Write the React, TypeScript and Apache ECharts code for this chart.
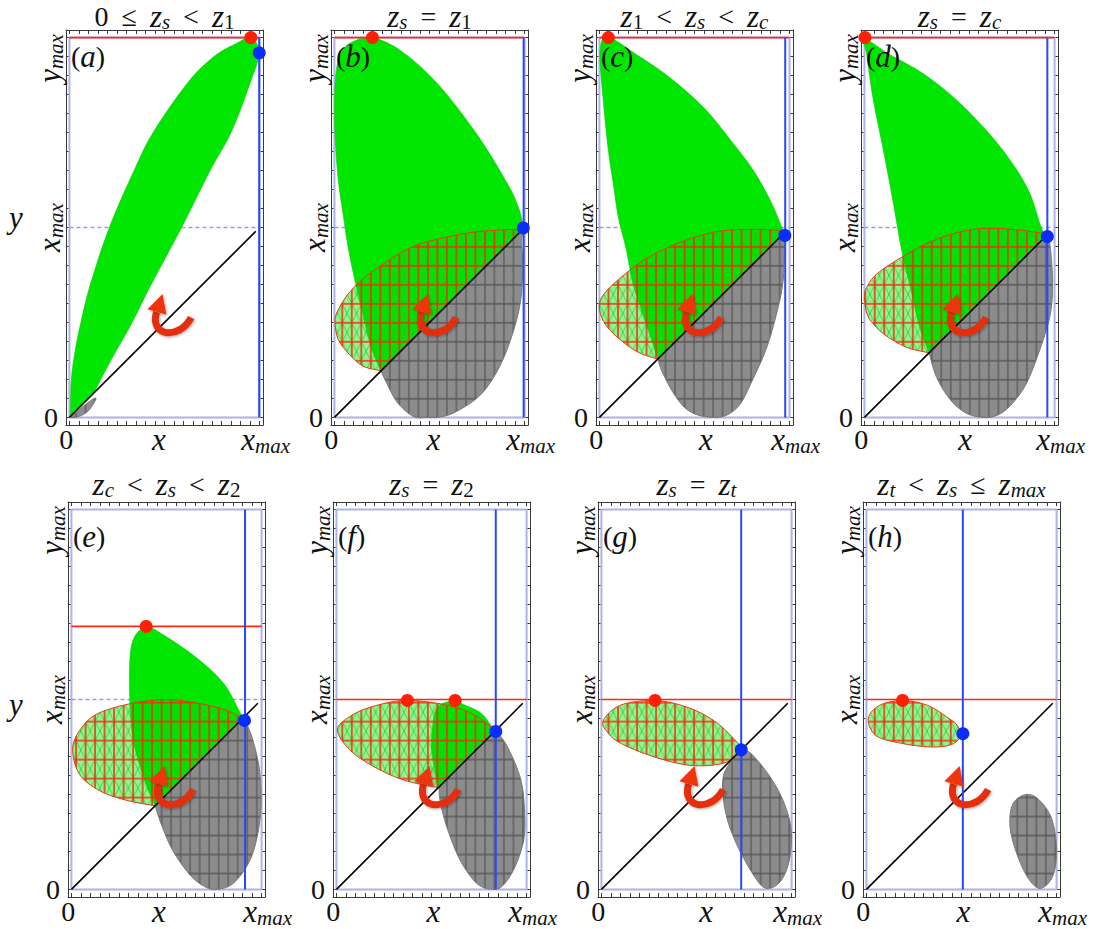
import { useEffect, useRef } from "react";
import * as echarts from "echarts";

// ---------------- data (x measured in x_max = 1, y in the same unit, y_max = 2) ----------------
const X_MIN = -0.018;
const X_MAX = 1.018;
const Y_MIN = -0.04;
const Y_MAX = 2.04;

const X_TICKS = [0, 0.05, 0.1, 0.15, 0.2, 0.25, 0.3, 0.35, 0.4, 0.45, 0.5, 0.55, 0.6, 0.65, 0.7, 0.75, 0.8, 0.85, 0.9, 0.95, 1];
const Y_TICKS = [0, 0.1, 0.2, 0.3, 0.4, 0.5, 0.6, 0.7, 0.8, 0.9, 1, 1.1, 1.2, 1.3, 1.4, 1.5, 1.6, 1.7, 1.8, 1.9, 2];

// tick-label positions and texts
const X_ZERO_LABEL_AT = -0.017;
const X_MAX_LABEL_AT = 1;
const X_NAME_AT = [0.47, 0.52, 0.56, 0.53, 0.46, 0.51, 0.55, 0.51];
const Y_XMAX_LABEL_AT = 1;
const Y_YMAX_LABEL_AT = 1.89;

const PANEL_IDS = ["a", "b", "c", "d", "e", "f", "g", "h"];
const PANEL_TITLES = [
  "{n|0}{sp| }{n|≤}{sp| }{i|z}{si|s}{sp| }{n|<}{sp| }{i|z}{sn|1}",
  "{i|z}{si|s}{sp| }{n|=}{sp| }{i|z}{sn|1}",
  "{i|z}{sn|1}{sp| }{n|<}{sp| }{i|z}{si|s}{sp| }{n|<}{sp| }{i|z}{si|c}",
  "{i|z}{si|s}{sp| }{n|=}{sp| }{i|z}{si|c}",
  "{i|z}{si|c}{sp| }{n|<}{sp| }{i|z}{si|s}{sp| }{n|<}{sp| }{i|z}{sn|2}",
  "{i|z}{si|s}{sp| }{n|=}{sp| }{i|z}{sn|2}",
  "{i|z}{si|s}{sp| }{n|=}{sp| }{i|z}{si|t}",
  "{i|z}{si|t}{sp| }{n|<}{sp| }{i|z}{si|s}{sp| }{n|≤}{sp| }{i|z}{si|max}",
];

const BOX = [[0, 0], [1, 0], [1, 2], [0, 2], [0, 0]];
const DASHED_LEVEL = [[0, 1], [1, 1]];
const SHOW_DASHED = [true, true, true, true, true, false, false, false];
const DIAGONAL = [[0, 0], [0.98, 0.98]];
const RED_LEVEL = [2, 2, 2, 2, 1.385, 1, 1, 1];
const BLUE_X = [0.998, 0.995, 0.977, 0.962, 0.913, 0.838, 0.735, 0.507];

const RED_DOTS = [
  [[0.954, 2]],
  [[0.2, 2]],
  [[0.047, 2]],
  [[0.003, 2]],
  [[0.393, 1.385]],
  [[0.373, 0.995], [0.624, 0.995]],
  [[0.282, 0.995]],
  [[0.19, 0.995]],
];
const BLUE_DOTS = [
  [0.998, 1.92],
  [0.993, 0.998],
  [0.975, 0.958],
  [0.962, 0.952],
  [0.91, 0.89],
  [0.838, 0.832],
  [0.735, 0.735],
  [0.507, 0.82],
];

// green (solid) regions: outline points; the last point joins the first along the diagonal
const GREEN_A = [[0.005, 0.01], [0.01, 0.2], [0.03, 0.35], [0.06, 0.5], [0.11, 0.7], [0.21, 1.0], [0.34, 1.3], [0.44, 1.5], [0.62, 1.76], [0.76, 1.9], [0.88, 1.97], [0.954, 2.0], [0.998, 1.92], [0.95, 1.76], [0.85, 1.5], [0.74, 1.3], [0.59, 1.0], [0.43, 0.7], [0.33, 0.5], [0.24, 0.34], [0.17, 0.21], [0.13, 0.13]];
const GREEN_B = [[0.245, 0.245], [0.196, 0.36], [0.15, 0.54], [0.11, 0.71], [0.073, 0.89], [0.047, 1.06], [0.02, 1.25], [0.005, 1.45], [0.0, 1.65], [0.01, 1.83], [0.04, 1.93], [0.1, 1.98], [0.2, 2.0], [0.35, 1.93], [0.54, 1.76], [0.75, 1.49], [0.91, 1.23], [0.97, 1.1], [0.995, 0.997]];
const GREEN_C = [[0.307, 0.307], [0.29, 0.36], [0.23, 0.54], [0.175, 0.71], [0.14, 0.89], [0.1, 1.05], [0.073, 1.23], [0.047, 1.405], [0.02, 1.67], [0.003, 1.93], [0.047, 2.0], [0.196, 1.91], [0.37, 1.79], [0.55, 1.63], [0.69, 1.46], [0.81, 1.3], [0.9, 1.14], [0.96, 1.0], [0.975, 0.96]];
const GREEN_D = [[0.34, 0.34], [0.29, 0.475], [0.25, 0.65], [0.196, 0.88], [0.15, 1.14], [0.1, 1.405], [0.047, 1.67], [0.012, 1.91], [0.003, 1.99], [0.135, 1.91], [0.31, 1.81], [0.486, 1.67], [0.66, 1.49], [0.78, 1.335], [0.87, 1.18], [0.93, 1.0], [0.962, 0.955]];
const GREEN_E = [[0.44, 0.44], [0.41, 0.51], [0.36, 0.65], [0.32, 0.82], [0.305, 1.085], [0.32, 1.3], [0.393, 1.38], [0.5, 1.33], [0.67, 1.21], [0.8, 1.085], [0.88, 0.945], [0.907, 0.89]];
const GREEN_F = [[0.535, 0.535], [0.52, 0.61], [0.5, 0.75], [0.51, 0.89], [0.525, 0.95], [0.56, 0.98], [0.62, 0.99], [0.7, 0.96], [0.77, 0.92], [0.835, 0.83]];

// red-outlined hatched regions
const HATCH_B = [[0.245, 0.245], [0.15, 0.27], [0.08, 0.33], [0.02, 0.41], [0.003, 0.5], [0.012, 0.55], [0.065, 0.64], [0.15, 0.73], [0.275, 0.82], [0.415, 0.9], [0.59, 0.95], [0.77, 0.98], [0.96, 0.99], [0.99, 0.99]];
const HATCH_C = [[0.307, 0.307], [0.21, 0.34], [0.12, 0.4], [0.035, 0.484], [0.0, 0.57], [0.017, 0.64], [0.105, 0.73], [0.245, 0.835], [0.42, 0.92], [0.6, 0.975], [0.77, 0.99], [0.956, 0.984], [0.97, 0.97]];
const HATCH_D = [[0.34, 0.34], [0.22, 0.37], [0.1, 0.44], [0.02, 0.53], [0.0, 0.63], [0.012, 0.685], [0.065, 0.755], [0.19, 0.84], [0.36, 0.93], [0.54, 0.985], [0.71, 0.995], [0.94, 0.97], [0.96, 0.96]];
const HATCH_E = [[0.44, 0.44], [0.287, 0.47], [0.147, 0.52], [0.04, 0.61], [0.007, 0.75], [0.06, 0.86], [0.147, 0.93], [0.32, 0.98], [0.5, 1.0], [0.67, 0.98], [0.81, 0.945], [0.9, 0.9]];
const HATCH_F = [[0.535, 0.535], [0.35, 0.577], [0.19, 0.65], [0.07, 0.735], [0.005, 0.84], [0.07, 0.91], [0.18, 0.96], [0.35, 0.995], [0.53, 0.98], [0.67, 0.945], [0.77, 0.89], [0.835, 0.835]];
const HATCH_G = [[0.01, 0.89], [0.1, 0.97], [0.28, 0.995], [0.45, 0.96], [0.59, 0.89], [0.69, 0.8], [0.735, 0.735], [0.68, 0.68], [0.59, 0.655], [0.45, 0.655], [0.27, 0.7], [0.1, 0.77], [0.03, 0.83]];
const HATCH_H = [[0.01, 0.9], [0.07, 0.97], [0.19, 0.995], [0.32, 0.97], [0.42, 0.91], [0.48, 0.86], [0.49, 0.8], [0.44, 0.76], [0.335, 0.75], [0.18, 0.77], [0.05, 0.81]];

// grey hatched regions
const GREY_A = [[0.01, 0.0], [0.05, 0.005], [0.1, 0.035], [0.14, 0.1], [0.1, 0.08], [0.04, 0.03]];
const GREY_B = [[0.245, 0.245], [0.27, 0.19], [0.33, 0.08], [0.415, 0.005], [0.485, 0.0], [0.556, 0.002], [0.64, 0.03], [0.77, 0.12], [0.87, 0.27], [0.94, 0.45], [0.98, 0.62], [0.99, 0.8], [0.985, 0.92], [0.99, 0.99]];
const GREY_C = [[0.307, 0.307], [0.33, 0.24], [0.386, 0.133], [0.45, 0.05], [0.52, 0.012], [0.6, 0.0], [0.67, 0.012], [0.74, 0.07], [0.8, 0.186], [0.877, 0.36], [0.93, 0.54], [0.965, 0.71], [0.973, 0.9], [0.97, 0.97]];
const GREY_D = [[0.34, 0.34], [0.38, 0.21], [0.45, 0.095], [0.53, 0.025], [0.62, 0.0], [0.7, 0.012], [0.77, 0.065], [0.85, 0.175], [0.92, 0.35], [0.975, 0.53], [0.99, 0.7], [0.977, 0.9], [0.96, 0.96]];
const GREY_E = [[0.44, 0.44], [0.47, 0.35], [0.53, 0.21], [0.62, 0.08], [0.7, 0.015], [0.77, 0.0], [0.86, 0.04], [0.95, 0.18], [0.995, 0.4], [0.99, 0.62], [0.95, 0.8], [0.905, 0.905]];
const GREY_F = [[0.54, 0.54], [0.545, 0.47], [0.58, 0.33], [0.65, 0.155], [0.74, 0.03], [0.826, 0.0], [0.88, 0.025], [0.94, 0.12], [0.985, 0.26], [0.99, 0.4], [0.97, 0.577], [0.9, 0.75], [0.838, 0.838]];
const GREY_G = [[0.747, 0.726], [0.82, 0.68], [0.92, 0.54], [0.98, 0.4], [1.0, 0.28], [0.985, 0.14], [0.94, 0.04], [0.87, 0.005], [0.81, 0.06], [0.71, 0.24], [0.65, 0.42], [0.645, 0.61]];
const GREY_H = [[0.84, 0.5], [0.91, 0.47], [0.975, 0.37], [1.0, 0.21], [0.98, 0.07], [0.915, 0.005], [0.85, 0.06], [0.79, 0.19], [0.755, 0.33], [0.77, 0.45]];

// curved red arrow (cubic body + head)
const ARROW_BODY = [[0.64, 0.525], [0.58, 0.41], [0.42, 0.42], [0.458, 0.555]];
const ARROW_HEAD = [[0.49, 0.65], [0.41, 0.57], [0.51, 0.54]];

// ---------------- per-panel tables built from the arrays ----------------
const GREEN_SHAPES = [GREEN_A, GREEN_B, GREEN_C, GREEN_D, GREEN_E, GREEN_F, null, null];
const HATCH_SHAPES = [null, HATCH_B, HATCH_C, HATCH_D, HATCH_E, HATCH_F, HATCH_G, HATCH_H];
const HATCH_CLOSED = [false, false, false, false, false, false, true, true];
const GREY_SHAPES = [GREY_A, GREY_B, GREY_C, GREY_D, GREY_E, GREY_F, GREY_G, GREY_H];
const GREY_CLOSED = [true, false, false, false, false, false, true, true];

// ---------------- layout & style ----------------
const GRID_LEFT = [66, 68];
const GRID_TOP = [30, 502];
const GRID_STEP = 265;
const GRID_W = 197;
const GRID_H = 395;
const FRAME = "#3a3a3a";
const FONT = "Liberation Serif";
const INK = "#111";

function makeRich(lh: number) {
  return {
    n: { fontFamily: FONT, fontWeight: "normal", fontStyle: "normal", fontSize: 28, lineHeight: lh, color: INK },
    i: { fontFamily: FONT, fontWeight: "normal", fontStyle: "italic", fontSize: 31, lineHeight: lh, color: INK },
    si: { fontFamily: FONT, fontWeight: "normal", fontStyle: "italic", fontSize: 21, lineHeight: 18, verticalAlign: "bottom", color: INK },
    sn: { fontFamily: FONT, fontWeight: "normal", fontStyle: "normal", fontSize: 21, lineHeight: 18, verticalAlign: "bottom", color: INK },
    sp: { fontFamily: FONT, fontSize: 12, width: 13 },
    pad: { fontFamily: FONT, fontSize: 12, width: 12 },
  };
}
const TEXT_BASE = { fontFamily: FONT, fontWeight: "normal", fontSize: 28, color: INK, rich: makeRich(34) };
const TITLE_TEXT = { fontFamily: FONT, fontWeight: "normal", fontSize: 28, color: INK, rich: makeRich(32) };

function smoothPath(p: number[][], closed: boolean): string {
  const n = p.length;
  const at = (k: number) => (closed ? p[((k % n) + n) % n] : p[Math.min(n - 1, Math.max(0, k))]);
  const f = (v: number) => v.toFixed(2);
  let d = `M${f(p[0][0])} ${f(p[0][1])}`;
  const segs = closed ? n : n - 1;
  for (let k = 0; k < segs; k++) {
    const a = at(k - 1), b = at(k), c = at(k + 1), e = at(k + 2);
    d += `C${f(b[0] + (c[0] - a[0]) / 6)} ${f(b[1] + (c[1] - a[1]) / 6)} ${f(c[0] - (e[0] - b[0]) / 6)} ${f(c[1] - (e[1] - b[1]) / 6)} ${f(c[0])} ${f(c[1])}`;
  }
  return d + "Z";
}

function tile(w: number, h: number, lineColor: string, lineWidth: number, diagColor: string | null): string {
  const svg =
    `<svg xmlns='http://www.w3.org/2000/svg' width='${w}' height='${h}' viewBox='0 0 ${w} ${h}'>` +
    (diagColor
      ? `<path d='M0 0L${w} ${h}M${w} 0L0 ${h}' stroke='${diagColor}' stroke-width='0.7' fill='none'/>`
      : "") +
    `<path d='M0 0V${h}M${w} 0V${h}M0 0H${w}M0 ${h}H${w}' stroke='${lineColor}' stroke-width='${lineWidth}' fill='none'/></svg>`;
  return "data:image/svg+xml;charset=utf-8," + encodeURIComponent(svg);
}

function regionSeries(pts: number[][], closed: boolean, kind: "green" | "hatch" | "grey", xi: number, yi: number, z: number) {
  return {
    type: "custom",
    xAxisIndex: xi,
    yAxisIndex: yi,
    z,
    silent: true,
    clip: true,
    data: pts,
    encode: { x: 0, y: 1 },
    renderItem: (params: any, api: any) => {
      if (params.dataIndex !== 0) return null;
      const pix = pts.map((q) => api.coord(q));
      const d = smoothPath(pix, closed);
      if (kind === "green") {
        return { type: "path", shape: { pathData: d }, style: { fill: "#00e600", stroke: "#10c810", lineWidth: 0.6 } };
      }
      const o = api.coord([0, 0]);
      const u = api.coord([0.05, 0.1]);
      const w = +(u[0] - o[0]).toFixed(3);
      const h = +(o[1] - u[1]).toFixed(3);
      const pattern = {
        image: kind === "hatch" ? tile(w, h, "#f52a0a", 1.5, "#12d012") : tile(w, h, "rgba(45,45,45,0.55)", 1.3, null),
        repeat: "repeat",
        imageWidth: w,
        imageHeight: h,
        x: o[0],
        y: o[1],
      };
      const base = kind === "hatch" ? "rgba(0,225,0,0.42)" : "#8c8c8c";
      const edge = kind === "hatch" ? "#ea3a18" : "#7a7a7a";
      return {
        type: "group",
        children: [
          { type: "path", shape: { pathData: d }, style: { fill: base } },
          { type: "path", shape: { pathData: d }, style: { fill: pattern } },
          { type: "path", shape: { pathData: d }, style: { fill: "none", stroke: edge, lineWidth: 1 } },
        ],
      };
    },
  };
}

function lineSeries(data: number[][], xi: number, yi: number, z: number, color: string, width: number, type: any = "solid") {
  return {
    type: "line",
    xAxisIndex: xi,
    yAxisIndex: yi,
    z,
    silent: true,
    data,
    symbol: "none",
    showSymbol: false,
    lineStyle: { color, width, type },
  };
}

function buildOption() {
  const grid: any[] = [];
  const xAxis: any[] = [];
  const yAxis: any[] = [];
  const series: any[] = [];
  const title: any[] = [];

  for (let i = 0; i < 8; i++) {
    const row = i < 4 ? 0 : 1;
    const col = i % 4;
    const left = GRID_LEFT[row] + col * GRID_STEP;
    const top = GRID_TOP[row];
    grid.push({ left, top, width: GRID_W, height: GRID_H, containLabel: false, outerBoundsMode: "none" });

    const xName = X_NAME_AT[i];
    const frameLine = { show: true, onZero: false, lineStyle: { color: FRAME, width: 1 } };
    xAxis.push({
      gridIndex: i, type: "value", min: X_MIN, max: X_MAX, position: "bottom",
      axisLine: frameLine,
      axisTick: { show: true, inside: true, length: 4, customValues: X_TICKS, lineStyle: { color: FRAME } },
      axisLabel: {
        show: true, margin: -3, ...TEXT_BASE,
        customValues: [X_ZERO_LABEL_AT, xName, X_MAX_LABEL_AT],
        formatter: (v: number) =>
          Math.abs(v - X_MAX_LABEL_AT) < 1e-6 ? "{pad| }{i|x}{si|max}" : Math.abs(v - xName) < 1e-6 ? "{i|x}" : "{n|0}",
      },
      splitLine: { show: false },
    });
    xAxis.push({
      gridIndex: i, type: "value", min: X_MIN, max: X_MAX, position: "top",
      axisLine: frameLine,
      axisTick: { show: true, inside: true, length: 4, customValues: X_TICKS, lineStyle: { color: FRAME } },
      axisLabel: { show: false },
      splitLine: { show: false },
    });
    yAxis.push({
      gridIndex: i, type: "value", min: Y_MIN, max: Y_MAX, position: "left",
      axisLine: frameLine,
      axisTick: { show: true, inside: true, length: 4, customValues: Y_TICKS, lineStyle: { color: FRAME } },
      axisLabel: {
        show: true, rotate: 90, margin: 0, ...TEXT_BASE,
        customValues: [Y_XMAX_LABEL_AT, Y_YMAX_LABEL_AT],
        formatter: (v: number) => (Math.abs(v - Y_XMAX_LABEL_AT) < 1e-6 ? "{i|x}{si|max}" : "{i|y}{si|max}"),
      },
      splitLine: { show: false },
    });
    yAxis.push({
      gridIndex: i, type: "value", min: Y_MIN, max: Y_MAX, position: "right",
      axisLine: frameLine,
      axisTick: { show: true, inside: true, length: 4, customValues: Y_TICKS, lineStyle: { color: FRAME } },
      axisLabel: { show: false },
      splitLine: { show: false },
    });
    yAxis.push({
      gridIndex: i, type: "value", min: Y_MIN, max: Y_MAX, position: "left",
      axisLine: { show: false },
      axisTick: { show: false },
      axisLabel: { show: true, margin: 8, ...TEXT_BASE, customValues: [0], formatter: () => "{n|0}" },
      splitLine: { show: false },
    });

    const xi = 2 * i;
    const yi = 3 * i;
    series.push(lineSeries(BOX, xi, yi, 1, "#adb2ea", 2));
    if (SHOW_DASHED[i]) series.push(lineSeries(DASHED_LEVEL, xi, yi, 1, "#979de0", 1.3, [4, 3]));
    const g = GREEN_SHAPES[i];
    if (g) series.push(regionSeries(g, false, "green", xi, yi, 2));
    const hsh = HATCH_SHAPES[i];
    if (hsh) series.push(regionSeries(hsh, HATCH_CLOSED[i], "hatch", xi, yi, 3));
    series.push(regionSeries(GREY_SHAPES[i], GREY_CLOSED[i], "grey", xi, yi, 4));
    series.push(lineSeries(DIAGONAL, xi, yi, 5, "#000", 1.6));
    series.push(lineSeries([[0, RED_LEVEL[i]], [1, RED_LEVEL[i]]], xi, yi, 5, "#ff2a12", 1.6));
    series.push(lineSeries([[BLUE_X[i], 0], [BLUE_X[i], 2]], xi, yi, 5, "#2a48ff", 2));
    series.push({
      type: "custom", xAxisIndex: xi, yAxisIndex: yi, z: 6, silent: true,
      data: [ARROW_BODY[0]],
      encode: { x: 0, y: 1 },
      renderItem: (_p: any, api: any) => {
        const b = ARROW_BODY.map((q) => api.coord(q));
        const hd = ARROW_HEAD.map((q) => api.coord(q));
        return {
          type: "group",
          children: [
            {
              type: "path",
              shape: { pathData: `M${b[0][0]} ${b[0][1]}C${b[1][0]} ${b[1][1]} ${b[2][0]} ${b[2][1]} ${b[3][0]} ${b[3][1]}` },
              style: { fill: "none", stroke: "#e42e0a", lineWidth: 7, shadowBlur: 3, shadowColor: "rgba(0,0,0,0.35)", shadowOffsetX: 1, shadowOffsetY: 1 },
            },
            { type: "polygon", shape: { points: hd }, style: { fill: "#ee3510", shadowBlur: 3, shadowColor: "rgba(0,0,0,0.3)", shadowOffsetX: 1, shadowOffsetY: 1 } },
          ],
        };
      },
    });
    series.push({
      type: "scatter", xAxisIndex: xi, yAxisIndex: yi, z: 7, silent: true,
      data: RED_DOTS[i], symbolSize: 13, itemStyle: { color: "#ff1f05", opacity: 1 },
    });
    series.push({
      type: "scatter", xAxisIndex: xi, yAxisIndex: yi, z: 7, silent: true,
      data: [BLUE_DOTS[i]], symbolSize: 13, itemStyle: { color: "#0a2cff", opacity: 1 },
    });

    title.push({
      text: PANEL_TITLES[i], left: left + GRID_W / 2, top: row === 0 ? 0 : 468,
      textAlign: "center", padding: 0, textStyle: TITLE_TEXT,
    });
    title.push({
      text: `{n|(}{i|${PANEL_IDS[i]}}{n|)}`, left: left + 5, top: row === 0 ? 39 : 519,
      padding: 0, textStyle: TEXT_BASE,
    });
  }
  title.push({ text: "{i|y}", left: 9, top: 200, padding: 0, textStyle: TEXT_BASE });
  title.push({ text: "{i|y}", left: 9, top: 687, padding: 0, textStyle: TEXT_BASE });

  return { animation: false, backgroundColor: "#ffffff", title, grid, xAxis, yAxis, series };
}

export default function App() {
  const ref = useRef<HTMLDivElement>(null);
  useEffect(() => {
    if (!ref.current) return;
    const chart = echarts.init(ref.current, null, { renderer: "svg" });
    chart.setOption(buildOption() as any);
    return () => chart.dispose();
  }, []);
  return <div ref={ref} style={{ position: "absolute", left: 0, top: 0, width: 1106, height: 929, background: "#fff" }} />;
}
